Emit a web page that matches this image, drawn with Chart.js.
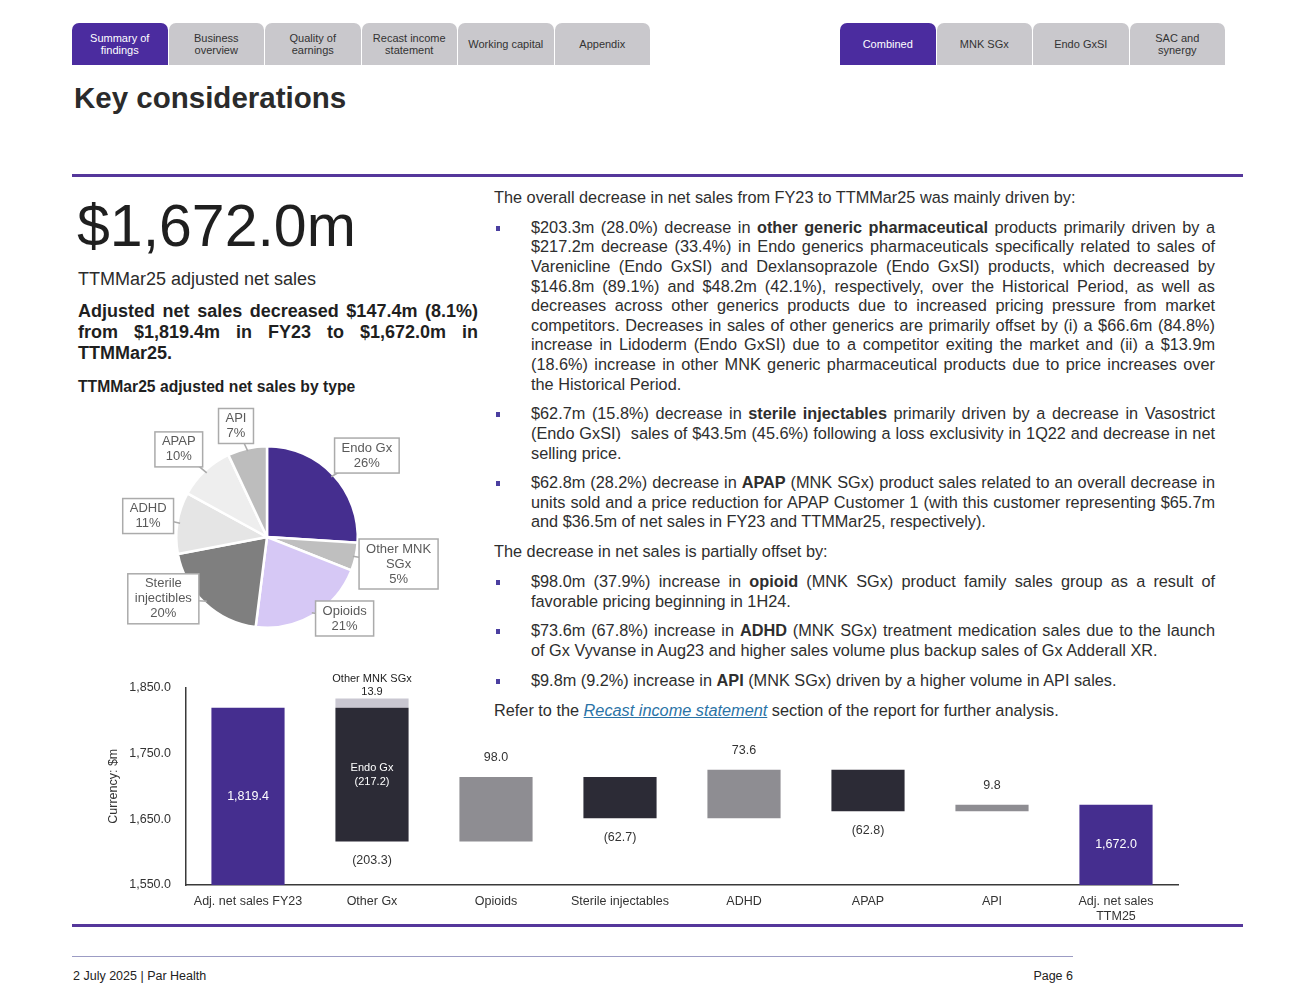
<!DOCTYPE html>
<html>
<head>
<meta charset="utf-8">
<script src="https://cdn.jsdelivr.net/npm/chart.js@4.4.1/dist/chart.umd.min.js"></script>
<style>
  body { margin:0; background:#fff; font-family:"Liberation Sans", Arial, sans-serif; color:#2b2b2b; }
  #page { position:relative; width:1300px; height:1005px; overflow:hidden; }
  .tabs { position:absolute; top:23px; height:42px; display:flex; }
  .tab { height:42px; width:95.5px; margin-right:1px; background:#c9c8cc; border-radius:7px 7px 0 0;
         display:flex; align-items:center; justify-content:center; text-align:center;
         font-size:11px; line-height:12px; color:#333; }
  .tab.on { background:#4b2c9f; color:#fff; }
  .abs { position:absolute; }
  .rule { position:absolute; left:72px; width:1171px; height:3px; background:#55379b; }
  #right { position:absolute; left:494px; top:188px; width:721px; font-size:16.3px; line-height:19.6px; color:#2e2e2e; }
  #right p { margin:0 0 10.2px 0; text-align:justify; }
  #right .b { position:relative; padding-left:37px; }
  #right .b:before { content:""; position:absolute; left:2px; top:8px; width:4px; height:5px; background:#4b3fa0; }
  #right a { color:#2a73a6; font-style:italic; text-decoration:underline; }
</style>
</head>
<body>
<div id="page">
  <div class="tabs" style="left:72px;">
    <div class="tab on">Summary of<br>findings</div>
    <div class="tab">Business<br>overview</div>
    <div class="tab">Quality of<br>earnings</div>
    <div class="tab">Recast income<br>statement</div>
    <div class="tab">Working capital</div>
    <div class="tab">Appendix</div>
  </div>
  <div class="tabs" style="left:840px;">
    <div class="tab on">Combined</div>
    <div class="tab">MNK SGx</div>
    <div class="tab">Endo GxSI</div>
    <div class="tab">SAC and<br>synergy</div>
  </div>

  <div class="abs" style="left:74px;top:81px;font-size:29.5px;font-weight:bold;color:#2b2b2b;">Key considerations</div>
  <div class="rule" style="top:174px;"></div>

  <div class="abs" style="left:77px;top:191px;font-size:59px;line-height:70px;color:#1f1f1f;">$1,672.0m</div>
  <div class="abs" style="left:78px;top:269px;font-size:18px;color:#2b2b2b;">TTMMar25 adjusted net sales</div>
  <div class="abs" style="left:78px;top:301px;width:400px;font-size:18px;line-height:21px;font-weight:bold;text-align:justify;color:#1f1f1f;">Adjusted net sales decreased $147.4m (8.1%) from $1,819.4m in FY23 to $1,672.0m in TTMMar25.</div>
  <div class="abs" style="left:78px;top:378px;font-size:15.7px;font-weight:bold;color:#1f1f1f;">TTMMar25 adjusted net sales by type</div>

  <div id="right">
    <p>The overall decrease in net sales from FY23 to TTMMar25 was mainly driven by:</p>
    <p class="b">$203.3m (28.0%) decrease in <b>other generic pharmaceutical</b> products primarily driven by a $217.2m decrease (33.4%) in Endo generics pharmaceuticals specifically related to sales of Varenicline (Endo GxSI) and Dexlansoprazole (Endo GxSI) products, which decreased by $146.8m (89.1%) and $48.2m (42.1%), respectively, over the Historical Period, as well as decreases across other generics products due to increased pricing pressure from market competitors. Decreases in sales of other generics are primarily offset by (i) a $66.6m (84.8%) increase in Lidoderm (Endo GxSI) due to a competitor exiting the market and (ii) a $13.9m (18.6%) increase in other MNK generic pharmaceutical products due to price increases over the Historical Period.</p>
    <p class="b">$62.7m (15.8%) decrease in <b>sterile injectables</b> primarily driven by a decrease in Vasostrict (Endo GxSI)&nbsp; sales of $43.5m (45.6%) following a loss exclusivity in 1Q22 and decrease in net selling price.</p>
    <p class="b">$62.8m (28.2%) decrease in <b>APAP</b> (MNK SGx) product sales related to an overall decrease in units sold and a price reduction for APAP Customer 1 (with this customer representing $65.7m and $36.5m of net sales in FY23 and TTMMar25, respectively).</p>
    <p>The decrease in net sales is partially offset by:</p>
    <p class="b">$98.0m (37.9%) increase in <b>opioid</b> (MNK SGx) product family sales group as a result of favorable pricing beginning in 1H24.</p>
    <p class="b">$73.6m (67.8%) increase in <b>ADHD</b> (MNK SGx) treatment medication sales due to the launch of Gx Vyvanse in Aug23 and higher sales volume plus backup sales of Gx Adderall XR.</p>
    <p class="b">$9.8m (9.2%) increase in <b>API</b> (MNK SGx) driven by a higher volume in API sales.</p>
    <p>Refer to the <a>Recast income statement</a> section of the report for further analysis.</p>
  </div>

  <canvas id="pie" class="abs" style="left:77px;top:387px;width:380px;height:300px;"></canvas>
  <canvas id="wf" class="abs" style="left:98px;top:665px;width:1092px;height:260px;"></canvas>

  <div class="rule" style="top:924px;"></div>
  <div class="abs" style="left:72px;top:956px;width:1001px;height:1px;background:#9c9cc4;"></div>
  <div class="abs" style="left:73px;top:969px;font-size:12.5px;color:#222;">2 July 2025 | Par Health</div>
  <div class="abs" style="left:1000px;top:969px;width:73px;text-align:right;font-size:12.5px;color:#222;">Page 6</div>
</div>

<script>
// pie data
var pieLabels = ['Endo Gx', 'Other MNK SGx', 'Opioids', 'Sterile injectibles', 'ADHD', 'APAP', 'API'];
var pieLines = [['Endo Gx'], ['Other MNK', 'SGx'], ['Opioids'], ['Sterile', 'injectibles'], ['ADHD'], ['APAP'], ['API']];
var pieShares = [26, 5, 21, 20, 11, 10, 7];
var pieColors = ['#452e8f', '#bfbfbf', '#d6c8f5', '#7f7f7f', '#e5e5e5', '#eeeeee', '#bdbdbd'];
// callout placement (distance factor, angle nudge in degrees)
var calloutDist = [1.42, 1.48, 1.24, 1.33, 1.33, 1.37, 1.27];
var calloutTurn = [4, -1, -13, 16, 1, -2, -3];

// waterfall data
var wfLabels = ['Adj. net sales FY23', 'Other Gx', 'Opioids', 'Sterile injectables', 'ADHD', 'APAP', 'API', ['Adj. net sales', 'TTM25']];
var wfStart = 1819.4;
var wfChanges = [-203.3, 98.0, -62.7, 73.6, -62.8, 9.8];
var wfEnd = 1672.0;
var endoGx = -217.2;
var otherMnkSGx = 13.9;
var yMin = 1550, yMax = 1850, yStep = 100;

var purple = '#452e8f', dark = '#2c2b36', grey = '#8e8d92', light = '#c9c7d1';

function fmt(v) {
  var s = Math.abs(v).toLocaleString('en-US', {minimumFractionDigits: 1, maximumFractionDigits: 1});
  return v < 0 ? '(' + s + ')' : s;
}

// pie labels in boxes
var pieLabelPlugin = {
  id: 'pieLabels',
  afterDatasetsDraw: function(chart) {
    var ctx = chart.ctx;
    var meta = chart.getDatasetMeta(0);
    ctx.save();
    ctx.font = '13px "Liberation Sans", Arial';
    meta.data.forEach(function(el, i) {
      var mid = (el.startAngle + el.endAngle) / 2;
      var ang = mid + calloutTurn[i] * Math.PI / 180;
      var r = el.outerRadius;
      var cx = el.x + Math.cos(ang) * r * calloutDist[i];
      var cy = el.y + Math.sin(ang) * r * calloutDist[i];
      var lines = pieLines[i].concat([pieShares[i] + '%']);
      var w = 0;
      lines.forEach(function(t) { w = Math.max(w, ctx.measureText(t).width); });
      var bw = w + 14, bh = lines.length * 15 + 5;
      // leader
      ctx.strokeStyle = '#ababab';
      ctx.lineWidth = 1.5;
      ctx.beginPath();
      ctx.moveTo(el.x + Math.cos(mid) * r * 0.97, el.y + Math.sin(mid) * r * 0.97);
      ctx.lineTo(cx, cy);
      ctx.stroke();
      ctx.fillStyle = '#fff';
      ctx.fillRect(cx - bw / 2, cy - bh / 2, bw, bh);
      ctx.strokeRect(cx - bw / 2, cy - bh / 2, bw, bh);
      ctx.fillStyle = '#5a5a5a';
      ctx.textAlign = 'center';
      ctx.textBaseline = 'middle';
      lines.forEach(function(t, k) {
        ctx.fillText(t, cx, cy - (lines.length - 1) * 7.5 + k * 15);
      });
    });
    ctx.restore();
  }
};

new Chart(document.getElementById('pie'), {
  type: 'pie',
  data: {
    labels: pieLabels,
    datasets: [{ data: pieShares, backgroundColor: pieColors, borderColor: '#fff', borderWidth: 2.5 }]
  },
  options: {
    responsive: false,
    animation: false,
    layout: { padding: 58 },
    plugins: { legend: { display: false }, tooltip: { enabled: false } }
  },
  plugins: [pieLabelPlugin]
});

// build floating bars from the changes
var ranges = [[yMin, wfStart]];
var colors = [purple];
var run = wfStart;
wfChanges.forEach(function(c, i) {
  ranges.push([run, run + c]);
  colors.push(i === 0 ? dark : (c > 0 ? grey : dark));
  run += c;
});
ranges.push([yMin, wfEnd]);
colors.push(purple);

var mnkData = wfLabels.map(function(l, i) { return i === 1 ? [wfStart, wfStart + otherMnkSGx] : null; });

var wfLabelPlugin = {
  id: 'wfLabels',
  afterDatasetsDraw: function(chart) {
    var ctx = chart.ctx;
    var bars = chart.getDatasetMeta(0).data;
    var mnk = chart.getDatasetMeta(1).data[1];
    ctx.save();
    ctx.textAlign = 'center';
    ctx.textBaseline = 'middle';
    bars.forEach(function(el, i) {
      var top = Math.min(el.y, el.base), bot = Math.max(el.y, el.base);
      ctx.font = '12.5px "Liberation Sans", Arial';
      if (i === 0 || i === bars.length - 1) {
        ctx.fillStyle = '#fff';
        ctx.fillText(fmt(i === 0 ? wfStart : wfEnd), el.x, (top + bot) / 2);
      } else {
        var c = wfChanges[i - 1];
        ctx.fillStyle = '#333';
        if (c > 0) ctx.fillText(fmt(c), el.x, top - 19);
        else ctx.fillText(fmt(c), el.x, bot + 19);
      }
    });
    // other Gx split
    var og = bars[1];
    ctx.font = '11px "Liberation Sans", Arial';
    ctx.fillStyle = '#fff';
    var mid = (Math.min(og.y, og.base) + Math.max(og.y, og.base)) / 2;
    ctx.fillText('Endo Gx', og.x, mid - 7);
    ctx.fillText(fmt(endoGx), og.x, mid + 7);
    ctx.fillStyle = '#222';
    var mtop = Math.min(mnk.y, mnk.base);
    ctx.fillText('Other MNK SGx', mnk.x, mtop - 20);
    ctx.fillText(fmt(otherMnkSGx), mnk.x, mtop - 7);
    ctx.restore();
  }
};

new Chart(document.getElementById('wf'), {
  type: 'bar',
  data: {
    labels: wfLabels,
    datasets: [
      { data: ranges, backgroundColor: colors, grouped: false, barPercentage: 0.59, categoryPercentage: 1 },
      { data: mnkData, backgroundColor: light, grouped: false, barPercentage: 0.59, categoryPercentage: 1 }
    ]
  },
  options: {
    responsive: false,
    animation: false,
    layout: { padding: { top: 22, right: 12, left: 0, bottom: 0 } },
    plugins: { legend: { display: false }, tooltip: { enabled: false } },
    scales: {
      x: {
        grid: { display: false, drawTicks: false },
        border: { color: '#3a3a3a', width: 1.5 },
        ticks: { color: '#333', font: { size: 12.5, family: '"Liberation Sans", Arial' }, padding: 9, maxRotation: 0, autoSkip: false },
        afterFit: function(s) { s.height = 40; }
      },
      y: {
        min: yMin, max: yMax,
        grid: { display: false, drawTicks: false },
        border: { color: '#3a3a3a', width: 1.5 },
        ticks: { stepSize: yStep, color: '#333', padding: 15, font: { size: 12.5, family: '"Liberation Sans", Arial' },
                 callback: function(v) { return v.toLocaleString('en-US', {minimumFractionDigits: 1}); } },
        title: { display: true, text: 'Currency: $m', color: '#333', font: { size: 12.5, family: '"Liberation Sans", Arial' }, padding: { top: 8, bottom: 0 } },
        afterFit: function(s) { s.width = 88; }
      }
    }
  },
  plugins: [wfLabelPlugin]
});
</script>
</body>
</html>
